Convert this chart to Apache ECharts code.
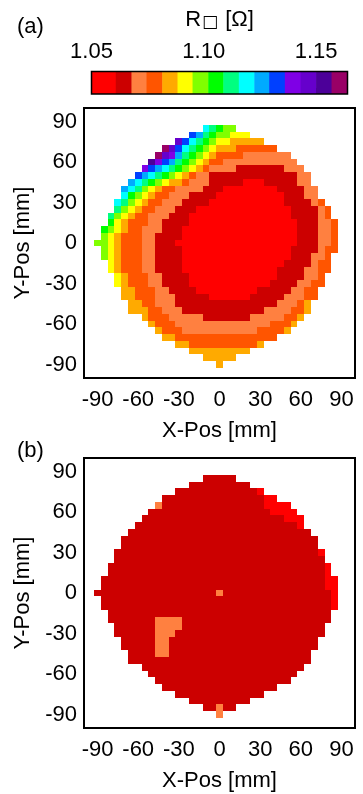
<!DOCTYPE html>
<html>
<head>
<meta charset="utf-8">
<script src="https://cdn.jsdelivr.net/npm/echarts@6/dist/echarts.min.js"></script>
<style>
  html, body { margin: 0; padding: 0; background: #fff; }
  #main { width: 363px; height: 794px; }
</style>
</head>
<body>
<div id="main"></div>
<script>
// colour levels of the sheet resistance R [Ohm]
var levelBounds = [1.05, 1.0608, 1.0678, 1.0745, 1.0815, 1.0883, 1.0950, 1.1020, 1.1087,
                   1.1156, 1.1225, 1.1291, 1.1361, 1.1431, 1.1500, 1.1569, 1.1640];
var levelColors = ['#ff0000', '#cc0000', '#ff8040', '#ff5500', '#ffaa00', '#ffff00', '#80ff00', '#00ff00',
                   '#00ff80', '#00ffff', '#00aaff', '#0040ff', '#7f00e6', '#6600cc', '#4c0099', '#990066'];
var colorbarTicks = [1.05, 1.10, 1.15];
var posTicks = [-90, -60, -30, 0, 30, 60, 90];

var STEP = 5;      // mm between measured sites
var TOP_ROW = 85;  // y of the first row, mm

// wafer maps, one row per 5 mm from y = 85 down to y = -90
// [x of first site / 5, level codes (hex level index, '*n' = repeated n times)]
var mapA = [
  [-2, '9 8 7 6*2'],
  [-4, 'b a 8 7 6*2 5*3'],
  [-6, 'd b 9 8 7 6 5*2 4*5'],
  [-8, 'f d b 9 8 7 6 5 4*3 3*6'],
  [-9, 'f d c a 8 7 6 5 4 3*4 2*7'],
  [-10, 'e c b a 8 7 6 5 4 3*2 2*11'],
  [-11, 'c b a 9 8 7 6 5 4 3 2*4 1*7 2*3'],
  [-12, 'b a 9 8 7 6 5 4 3 2*2 1*13 2*2'],
  [-13, 'a 9 8 7 6 5 4*2 3 2*3 1*5 0*3 1*5 2*2'],
  [-14, 'a 9 8 6 5 4 3*2 2*4 1*3 0*8 1*4 2*2'],
  [-14, '9 7 6 5 4 3*2 2*3 1*4 0*10 1*3 2*2'],
  [-15, '9 8 6 5 4 3*2 2*3 1*4 0*11 1*4 2 3'],
  [-15, '8 6 5 4 3*2 2*3 1*3 0*14 1*4 2 3'],
  [-16, '8 6 5 4 3*2 2*3 1*3 0*15 1*4 2 3'],
  [-16, '7 5 4 3*3 2*2 1*4 0*16 1*3 2*2 3'],
  [-17, '7 6 5 4 3*2 2*3 1*3 0*17 1*3 2*2 3'],
  [-17, '6 5 4 3*3 2*2 1*4 0*17 1*3 2*2 3'],
  [-18, '6*2 5 4 3*3 2*2 1*3 0*18 1*3 2*2 3'],
  [-17, '6 5 4 3*3 2*2 1*4 0*16 1*4 2 3*2'],
  [-17, '6 5 4 3*3 2*2 1*4 0*16 1*3 2*2 3'],
  [-16, '5 4 3*3 2*2 1*4 0*15 1*4 2 3*2'],
  [-16, '5 4 3*3 2*2 1*4 0*14 1*4 2*2 3*2'],
  [-15, '5 4 3*3 2*2 1*4 0*13 1*4 2*2 3'],
  [-15, '5 4 3*3 2*2 1*4 0*12 1*4 2*2 3*2'],
  [-14, '4*2 3*3 2*2 1*4 0*9 1*5 2*2 3*2'],
  [-14, '4*2 3*3 2*3 1*5 0*6 1*5 2*3 3*2'],
  [-13, '4*2 3*2 2*3 1*15 2*3 3 4'],
  [-13, '4*3 3*2 2*3 1*12 2*4 3*2 4'],
  [-11, '4 3*3 2*5 1*7 2*5 3*2 4'],
  [-10, '4 3*3 2*14 3*3 4'],
  [-9, '4 3*3 2*11 3*4 4'],
  [-8, '4*2 3*15'],
  [-6, '4*2 3*10 4'],
  [-4, '4*9'],
  [-2, '4*5'],
  [0, '4']
];

var mapB = [
  [-2, '1*5'],
  [-4, '1*9'],
  [-6, '1*12 0'],
  [-8, '1*15 0*2'],
  [-9, '2 1*15 0*4'],
  [-10, '1*18 0*4'],
  [-11, '1*21 0*3'],
  [-12, '1*24 0'],
  [-13, '1*27'],
  [-14, '1*29'],
  [-14, '1*29'],
  [-15, '1*30 0'],
  [-15, '1*31'],
  [-16, '1*32 0'],
  [-16, '1*32 0'],
  [-17, '1*33 0*2'],
  [-17, '1*33 0*2'],
  [-18, '1*18 2 1*16 0'],
  [-17, '1*34 0'],
  [-17, '1*34 0'],
  [-16, '1*33'],
  [-16, '1*7 2*4 1*22'],
  [-15, '1*6 2*4 1*21'],
  [-15, '1*6 2*3 1*22'],
  [-14, '1*5 2*2 1*22'],
  [-14, '1*5 2*2 1*22'],
  [-13, '1*4 2*2 1*21'],
  [-13, '1*27'],
  [-11, '1*24'],
  [-10, '1*22'],
  [-9, '1*20'],
  [-8, '1*17'],
  [-6, '1*13'],
  [-4, '1*9'],
  [-2, '1*2 2 1*2'],
  [0, '2']
];

// value in the middle of each colour level
var levelValues = levelColors.map(function (c, i) {
  return (levelBounds[i] + levelBounds[i + 1]) / 2;
});

function expand(rows) {
  var out = [];
  rows.forEach(function (row, r) {
    var y = TOP_ROW - r * STEP;
    var col = row[0];
    row[1].split(' ').forEach(function (tok) {
      var p = tok.split('*');
      var n = p.length > 1 ? +p[1] : 1;
      for (var i = 0; i < n; i++) {
        out.push([col * STEP, y, levelValues[parseInt(p[0], 16)]]);
        col++;
      }
    });
  });
  return out;
}

var colorbarData = levelColors.map(function (c, i) {
  return [levelBounds[i], levelBounds[i + 1], levelValues[i]];
});

var font = '"Liberation Sans", Arial, Helvetica, sans-serif';
var txt = {fontFamily: font, fontSize: 22, color: '#000'};
var frame = {show: true, borderColor: '#000', borderWidth: 2, backgroundColor: 'transparent', z: 10};

function renderCell(params, api) {
  var c = api.coord([api.value(0), api.value(1)]);
  var s = api.size([STEP, STEP]);
  var x0 = Math.round(c[0] - s[0] / 2), x1 = Math.round(c[0] + s[0] / 2);
  var y0 = Math.round(c[1] - s[1] / 2), y1 = Math.round(c[1] + s[1] / 2);
  return {
    type: 'rect',
    shape: {x: x0, y: y0, width: x1 - x0, height: y1 - y0},
    style: {fill: api.visual('color')}
  };
}

function renderBar(params, api) {
  var p0 = api.coord([api.value(0), 0]);
  var p1 = api.coord([api.value(1), 1]);
  return {
    type: 'rect',
    shape: {x: p0[0], y: p1[1], width: p1[0] - p0[0] + 0.5, height: p0[1] - p1[1]},
    style: {fill: api.visual('color')}
  };
}

function posX(gi) {
  return {
    type: 'value', gridIndex: gi, min: -100, max: 100,
    axisLine: {show: false}, axisTick: {show: false}, splitLine: {show: false},
    axisLabel: Object.assign({customValues: posTicks, margin: 11}, txt),
    name: 'X-Pos [mm]', nameLocation: 'middle', nameGap: 42, nameTextStyle: txt
  };
}
function posY(gi) {
  return {
    type: 'value', gridIndex: gi, min: -100, max: 100,
    axisLine: {show: false}, axisTick: {show: false}, splitLine: {show: false},
    axisLabel: Object.assign({customValues: posTicks, margin: 7}, txt),
    name: 'Y-Pos [mm]', nameLocation: 'middle', nameGap: 45, nameTextStyle: txt
  };
}

var chart = echarts.init(document.getElementById('main'));
chart.setOption({
  animation: false,
  backgroundColor: '#fff',
  title: [
    {text: '(a)', left: 17, top: 16, padding: 0,
     textStyle: {fontFamily: font, fontSize: 22, fontWeight: 'normal', color: '#000'}},
    {text: '(b)', left: 17, top: 440, padding: 0,
     textStyle: {fontFamily: font, fontSize: 22, fontWeight: 'normal', color: '#000'}}
  ],
  visualMap: {
    type: 'piecewise', show: false, dimension: 2, seriesIndex: [0, 1, 2],
    pieces: levelColors.map(function (c, i) {
      return {gte: levelBounds[i], lt: levelBounds[i + 1], color: c};
    })
  },
  grid: [
    Object.assign({left: 91.5, top: 71.5, width: 256, height: 22.5}, frame, {borderWidth: 1.5}),
    Object.assign({left: 84, top: 108, width: 271, height: 270}, frame),
    Object.assign({left: 84, top: 458, width: 271, height: 270}, frame)
  ],
  xAxis: [
    {
      type: 'value', gridIndex: 0, position: 'top',
      min: levelBounds[0], max: levelBounds[levelBounds.length - 1],
      axisLine: {show: false}, splitLine: {show: false},
      axisTick: {show: true, customValues: colorbarTicks, length: 6, lineStyle: {color: '#000', width: 1.5}},
      axisLabel: Object.assign({customValues: colorbarTicks, margin: 9,
        formatter: function (v) { return v.toFixed(2); }}, txt),
      name: '{r|R}{s|□}{r| [Ω]}', nameLocation: 'middle', nameGap: 40,
      nameTextStyle: {
        rich: {
          r: {fontFamily: font, fontSize: 22, lineHeight: 24, color: '#000'},
          s: {fontFamily: '"DejaVu Sans", sans-serif', fontSize: 17, lineHeight: 14,
              verticalAlign: 'bottom', color: '#000', padding: [0, 1, 0, 1]}
        }
      }
    },
    posX(1),
    posX(2)
  ],
  yAxis: [
    {type: 'value', gridIndex: 0, min: 0, max: 1, show: false},
    posY(1),
    posY(2)
  ],
  series: [
    {type: 'custom', xAxisIndex: 0, yAxisIndex: 0, renderItem: renderBar, data: colorbarData},
    {type: 'custom', xAxisIndex: 1, yAxisIndex: 1, renderItem: renderCell, data: expand(mapA)},
    {type: 'custom', xAxisIndex: 2, yAxisIndex: 2, renderItem: renderCell, data: expand(mapB)}
  ]
});
</script>
</body>
</html>
